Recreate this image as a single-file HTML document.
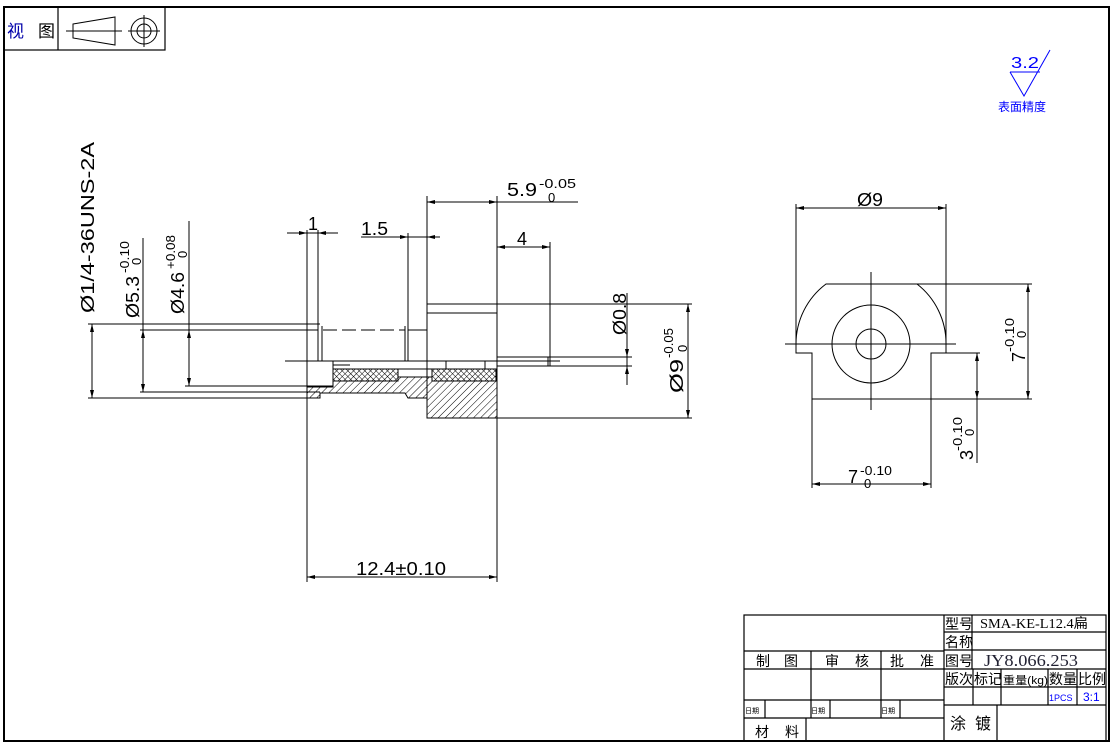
<!DOCTYPE html>
<html><head><meta charset="utf-8"><style>
html,body{margin:0;padding:0;background:#fff;}
svg{display:block;}
text{font-family:"Liberation Sans","Noto Sans CJK SC",sans-serif;fill:#000;}
</style></head><body>
<svg width="1113" height="745" viewBox="0 0 1113 745" xmlns="http://www.w3.org/2000/svg">
<defs>
<pattern id="h" width="5" height="5" patternUnits="userSpaceOnUse" patternTransform="rotate(45)">
<line x1="0" y1="0" x2="0" y2="5" stroke="#000" stroke-width="1"/></pattern>
<pattern id="x" width="4" height="4" patternUnits="userSpaceOnUse" patternTransform="rotate(45)">
<line x1="0" y1="0" x2="0" y2="4" stroke="#000" stroke-width="1"/><line x1="0" y1="0" x2="4" y2="0" stroke="#000" stroke-width="1"/></pattern>
</defs>
<g fill="none" stroke="#000" stroke-width="1.2">
<rect x="4" y="7" width="1105" height="734" stroke-width="2"/>
<rect x="4" y="7" width="161" height="43"/>
<line x1="58" y1="7" x2="58" y2="50"/>
</g>
<text x="7" y="37" font-size="17" style="fill:#00a">视</text><text x="38" y="37" font-size="17">图</text>
<g fill="none" stroke="#000" stroke-width="1">
<path d="M73,24 L115,17 L115,45 L73,38z"/><line x1="66" y1="31" x2="122" y2="31"/>
<circle cx="144" cy="31" r="13"/><circle cx="144" cy="31" r="7"/>
<line x1="128" y1="31" x2="160" y2="31"/><line x1="144" y1="15" x2="144" y2="47"/>
</g>
<g stroke="#00f" fill="none" stroke-width="1"><path d="M1010,72 L1040,72 M1010,72 L1024,96 L1050,50"/></g>
<text x="1011" y="68" font-size="16" textLength="28" lengthAdjust="spacingAndGlyphs" style="fill:#00f">3.2</text>
<text x="998" y="111" font-size="12" style="fill:#00f">表面精度</text>

<path d="M307,387 L333,387 L333,381 L398,381 L398,377 L432,377 L432,381 L497,381 L497,418 L427,418 L427,398 L408,398 L405,393 L320,393 L320,398 L307,398z" fill="url(#h)" stroke="#000"/>
<rect x="333" y="369" width="65" height="12" fill="url(#x)" stroke="#000"/>
<rect x="432" y="369" width="64" height="12" fill="url(#x)" stroke="#000"/>
<g fill="none" stroke="#000" stroke-width="1">
<line x1="88" y1="324" x2="320" y2="324"/>
<line x1="140" y1="330" x2="318" y2="330"/>
<line x1="323" y1="330" x2="405" y2="330" stroke-dasharray="14,5"/>
<line x1="408" y1="330" x2="427" y2="330"/>
<line x1="185" y1="386" x2="333" y2="386"/>
<line x1="140" y1="392" x2="320" y2="392"/>
<line x1="88" y1="398" x2="320" y2="398"/>
<line x1="307" y1="230" x2="307" y2="582"/>
<line x1="318" y1="230" x2="318" y2="361"/>
<line x1="322" y1="326" x2="322" y2="361"/>
<line x1="405" y1="326" x2="405" y2="361"/>
<line x1="408" y1="233" x2="408" y2="361"/>
<line x1="427" y1="196" x2="427" y2="418"/>
<line x1="497" y1="196" x2="497" y2="582"/>
<line x1="285" y1="361" x2="560" y2="361"/>
<line x1="333" y1="361" x2="333" y2="369"/><line x1="333" y1="365" x2="350" y2="365"/>
<line x1="398" y1="369" x2="432" y2="369"/>
<line x1="427" y1="304" x2="692" y2="304"/>
<line x1="427" y1="313" x2="497" y2="313"/>
<line x1="497" y1="357" x2="632" y2="357"/>
<line x1="497" y1="366" x2="632" y2="366"/>
<line x1="548" y1="357" x2="548" y2="366"/>
<line x1="550" y1="242" x2="550" y2="366"/>
<line x1="427" y1="418" x2="692" y2="418"/>
<line x1="446" y1="361" x2="446" y2="369"/><line x1="485" y1="361" x2="485" y2="369"/>
<line x1="92" y1="324" x2="92" y2="398"/>
<line x1="143" y1="238" x2="143" y2="392"/>
<line x1="189" y1="221" x2="189" y2="386"/>
<line x1="287" y1="233" x2="338" y2="233"/>
<line x1="361" y1="237" x2="440" y2="237"/>
<line x1="427" y1="202" x2="578" y2="202"/>
<line x1="497" y1="247" x2="550" y2="247"/>
<line x1="627" y1="293" x2="627" y2="385"/>
<line x1="688" y1="304" x2="688" y2="418"/>
<line x1="307" y1="577" x2="497" y2="577"/>
</g>
<g fill="#000">
<path d="M92,324 l-2,8 h4z M92,398 l-2,-8 h4z M143,330 l-2,8 h4z M143,392 l-2,-8 h4z M189,330 l-2,8 h4z M189,386 l-2,-8 h4z"/>
<path d="M307,233 l-8,-2 v4z M318,233 l8,-2 v4z M408,237 l-8,-2 v4z M427,237 l8,-2 v4z"/>
<path d="M427,202 l8,-2 v4z M497,202 l-8,-2 v4z M497,247 l8,-2 v4z M550,247 l-8,-2 v4z"/>
<path d="M627,357 l-2,-8 h4z M627,366 l-2,8 h4z M688,304 l-2,8 h4z M688,418 l-2,-8 h4z"/>
<path d="M307,577 l8,-2 v4z M497,577 l-8,-2 v4z"/>
</g>
<g font-size="18">
<text x="0" y="0" textLength="171" lengthAdjust="spacingAndGlyphs" transform="translate(94,313) rotate(-90)">Ø1/4-36UNS-2A</text>
<text x="0" y="0" textLength="42" lengthAdjust="spacingAndGlyphs" transform="translate(139,318) rotate(-90)">Ø5.3</text>
<text x="0" y="0" font-size="13" textLength="32" lengthAdjust="spacingAndGlyphs" transform="translate(129,273) rotate(-90)">-0.10</text>
<text x="0" y="0" font-size="13" transform="translate(141,265) rotate(-90)">0</text>
<text x="0" y="0" textLength="42" lengthAdjust="spacingAndGlyphs" transform="translate(184,314) rotate(-90)">Ø4.6</text>
<text x="0" y="0" font-size="13" textLength="34" lengthAdjust="spacingAndGlyphs" transform="translate(175,269) rotate(-90)">+0.08</text>
<text x="0" y="0" font-size="13" transform="translate(187,258) rotate(-90)">0</text>
<text x="308" y="230">1</text>
<text x="361" y="235" textLength="27" lengthAdjust="spacingAndGlyphs">1.5</text>
<text x="507" y="196" textLength="30" lengthAdjust="spacingAndGlyphs">5.9</text>
<text x="539" y="188" font-size="13" textLength="37" lengthAdjust="spacingAndGlyphs">-0.05</text>
<text x="548" y="202" font-size="13">0</text>
<text x="517" y="245">4</text>
<text x="0" y="0" textLength="42" lengthAdjust="spacingAndGlyphs" transform="translate(626,335) rotate(-90)">Ø0.8</text>
<text x="0" y="0" textLength="34" lengthAdjust="spacingAndGlyphs" transform="translate(683,393) rotate(-90)">Ø9</text>
<text x="0" y="0" font-size="13" textLength="30" lengthAdjust="spacingAndGlyphs" transform="translate(673,358) rotate(-90)">-0.05</text>
<text x="0" y="0" font-size="13" transform="translate(687,352) rotate(-90)">0</text>
<text x="356" y="575" textLength="90" lengthAdjust="spacingAndGlyphs">12.4±0.10</text>
</g>

<g fill="none" stroke="#000" stroke-width="1">
<path d="M796,344 A75,75 0 0 1 826,284 L917,284 A75,75 0 0 1 946,344"/>
<circle cx="871" cy="344" r="39"/><circle cx="871" cy="344" r="15"/>
<line x1="785" y1="344" x2="956" y2="344"/><line x1="871" y1="272" x2="871" y2="410"/>
<path d="M796,344 L796,353 L812,353 L812,488 M946,344 L946,353 L931,353 L931,488"/>
<line x1="931" y1="353" x2="980" y2="353"/>
<line x1="917" y1="284" x2="1032" y2="284"/>
<line x1="812" y1="399" x2="1032" y2="399"/>
<line x1="796" y1="204" x2="796" y2="344"/><line x1="946" y1="204" x2="946" y2="344"/>
<line x1="796" y1="208" x2="946" y2="208"/>
<line x1="1028" y1="284" x2="1028" y2="399"/>
<line x1="977" y1="353" x2="977" y2="463"/>
<line x1="812" y1="484" x2="931" y2="484"/>
</g>
<g fill="#000">
<path d="M796,208 l8,-2 v4z M946,208 l-8,-2 v4z M1028,284 l-2,8 h4z M1028,399 l-2,-8 h4z M977,353 l-2,8 h4z M977,399 l-2,-8 h4z M812,484 l8,-2 v4z M931,484 l-8,-2 v4z"/>
</g>
<g font-size="18">
<text x="857" y="206" textLength="26" lengthAdjust="spacingAndGlyphs">Ø9</text>
<text x="0" y="0" transform="translate(1025,362) rotate(-90)">7</text>
<text x="0" y="0" font-size="13" textLength="34" lengthAdjust="spacingAndGlyphs" transform="translate(1014,352) rotate(-90)">-0.10</text>
<text x="0" y="0" font-size="13" transform="translate(1026,338) rotate(-90)">0</text>
<text x="0" y="0" transform="translate(973,460) rotate(-90)">3</text>
<text x="0" y="0" font-size="13" textLength="34" lengthAdjust="spacingAndGlyphs" transform="translate(962,451) rotate(-90)">-0.10</text>
<text x="0" y="0" font-size="13" transform="translate(974,436) rotate(-90)">0</text>
<text x="848" y="483">7</text>
<text x="860" y="475" font-size="13" textLength="32" lengthAdjust="spacingAndGlyphs">-0.10</text>
<text x="864" y="488" font-size="13">0</text>
</g>

<g fill="none" stroke="#000" stroke-width="1.2">
<rect x="744" y="615" width="362" height="126"/>
<line x1="944" y1="615" x2="944" y2="741"/>
<line x1="744" y1="651" x2="944" y2="651"/>
<line x1="744" y1="669" x2="1106" y2="669"/>
<line x1="744" y1="700" x2="944" y2="700"/>
<line x1="744" y1="718" x2="944" y2="718"/>
<line x1="811" y1="651" x2="811" y2="718"/>
<line x1="881" y1="651" x2="881" y2="718"/>
<line x1="765" y1="700" x2="765" y2="718"/>
<line x1="830" y1="700" x2="830" y2="718"/>
<line x1="900" y1="700" x2="900" y2="718"/>
<line x1="806" y1="718" x2="806" y2="741"/>
<line x1="944" y1="632" x2="1106" y2="632"/>
<line x1="944" y1="650" x2="1106" y2="650"/>
<line x1="944" y1="687" x2="1106" y2="687"/>
<line x1="944" y1="705" x2="1106" y2="705"/>
<line x1="972" y1="615" x2="972" y2="669"/>
<line x1="973" y1="669" x2="973" y2="705"/>
<line x1="1001" y1="669" x2="1001" y2="705"/>
<line x1="1048" y1="669" x2="1048" y2="705"/>
<line x1="1077" y1="669" x2="1077" y2="705"/>
<line x1="997" y1="705" x2="997" y2="741"/>
</g>
<g font-size="14">
<text x="945" y="629">型号</text><text x="945" y="647">名称</text><text x="945" y="666">图号</text>
<text x="980" y="628" textLength="108" lengthAdjust="spacingAndGlyphs" style="font-family:'Liberation Serif','Noto Sans CJK SC',serif">SMA-KE-L12.4扁</text>
<text x="984" y="666" font-size="17" textLength="94" lengthAdjust="spacingAndGlyphs" style="font-family:'Liberation Serif',serif;fill:#223">JY8.066.253</text>
<text x="945" y="684">版次</text><text x="974" y="684">标记</text>
<text x="1003" y="684" font-size="11" textLength="45" lengthAdjust="spacingAndGlyphs">重量(kg)</text>
<text x="1049" y="684">数量</text><text x="1078" y="684">比例</text>
<text x="1049" y="701" font-size="9" style="fill:#00f">1PCS</text>
<text x="1083" y="701" font-size="12" style="fill:#00f">3:1</text>
<text x="756" y="666">制</text><text x="784" y="666">图</text>
<text x="825" y="666">审</text><text x="855" y="666">核</text>
<text x="890" y="666">批</text><text x="920" y="666">准</text>
<text x="745" y="713" font-size="7">日期</text><text x="811" y="713" font-size="7">日期</text><text x="881" y="713" font-size="7">日期</text>
<text x="755" y="737">材</text><text x="785" y="737">料</text>
<text x="950" y="729" font-size="16">涂</text><text x="975" y="729" font-size="16">镀</text>
</g>
</svg>
</body></html>
